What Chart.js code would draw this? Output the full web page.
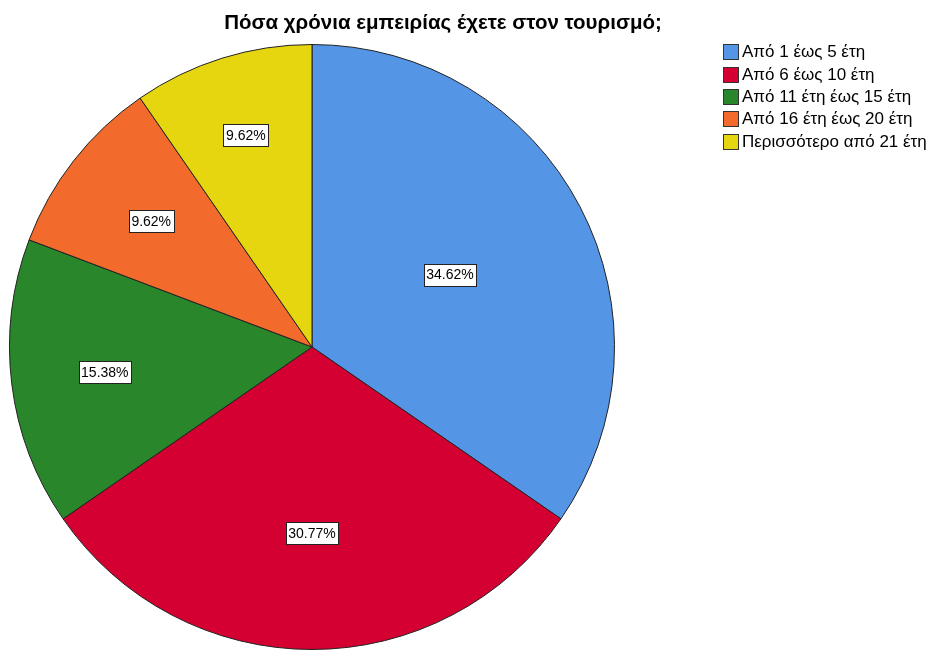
<!DOCTYPE html>
<html>
<head>
<meta charset="utf-8">
<script src="https://cdn.jsdelivr.net/npm/chart.js@4.4.9/dist/chart.umd.min.js"></script>
<style>
  html, body { margin: 0; padding: 0; background: #fff; }
  #wrap { position: relative; width: 931px; height: 652px; overflow: hidden; font-family: "Liberation Sans", Arial, sans-serif; }
  #title { position: absolute; left: 0; width: 886px; top: 10px; text-align: center; font-weight: bold; font-size: 20.5px; color: #000; white-space: nowrap; }
  #legend { position: absolute; left: 723px; top: 41px; font-size: 17px; color: #000; }
  #legend div { height: 22.4px; display: flex; align-items: center; white-space: nowrap; }
  #legend span.box { display: inline-block; width: 14px; height: 14px; border: 1px solid #333; margin-right: 3px; }
  canvas { position: absolute; left: 0; top: 0; }
</style>
</head>
<body>
<div id="wrap">
  <canvas id="pieChart" width="931" height="652"></canvas>
  <div id="title">Πόσα χρόνια εμπειρίας έχετε στον τουρισμό;</div>
  <div id="legend"></div>
</div>
<script>
// 데이터
const categories = ['Από 1 έως 5 έτη', 'Από 6 έως 10 έτη', 'Από 11 έτη έως 15 έτη', 'Από 16 έτη έως 20 έτη', 'Περισσότερο από 21 έτη'];
const percents = [34.62, 30.77, 15.38, 9.62, 9.62];
const sliceColors = ['#5595e6', '#d50032', '#2a862b', '#f26a2c', '#e5d60f'];

// 라벨 위치 (반지름 비율)
const labelRadius = [0.515, 0.615, 0.69, 0.675, 0.735];

// 범례 HTML
const legendEl = document.getElementById('legend');
categories.forEach((c, i) => {
    const row = document.createElement('div');
    row.innerHTML = `<span class="box" style="background:${sliceColors[i]}"></span>${c}`;
    legendEl.appendChild(row);
});

// 박스 라벨 플러그인
const boxLabels = {
    id: 'boxLabels',
    afterDatasetsDraw(chart) {
        const ctx = chart.ctx;
        const meta = chart.getDatasetMeta(0);
        ctx.save();
        ctx.font = '14px "Liberation Sans", Arial, sans-serif';
        ctx.textAlign = 'center';
        ctx.textBaseline = 'middle';
        meta.data.forEach((arc, i) => {
            const mid = (arc.startAngle + arc.endAngle) / 2;
            const r = arc.outerRadius * labelRadius[i];
            const x = arc.x + Math.cos(mid) * r;
            const y = arc.y + Math.sin(mid) * r;
            const txt = percents[i].toFixed(2) + '%';
            const w = Math.round(ctx.measureText(txt).width + 5);
            const h = 22;
            const bx = Math.round(x - w / 2) + 0.5;
            const by = Math.round(y - h / 2) + 0.5;
            ctx.fillStyle = '#fff';
            ctx.fillRect(bx, by, w, h);
            ctx.strokeStyle = '#222';
            ctx.lineWidth = 1;
            ctx.strokeRect(bx, by, w, h);
            ctx.fillStyle = '#000';
            ctx.fillText(txt, x, y + 1);
        });
        ctx.restore();
    }
};

new Chart(document.getElementById('pieChart').getContext('2d'), {
    type: 'pie',
    data: {
        labels: categories,
        datasets: [{
            data: percents,
            backgroundColor: sliceColors,
            borderColor: '#222',
            borderWidth: 1
        }]
    },
    options: {
        responsive: false,
        animation: false,
        layout: { padding: { left: 9, right: 316, top: 44, bottom: 2 } },
        plugins: {
            legend: { display: false },
            tooltip: { enabled: false },
            title: { display: false }
        }
    },
    plugins: [boxLabels]
});
</script>
</body>
</html>
